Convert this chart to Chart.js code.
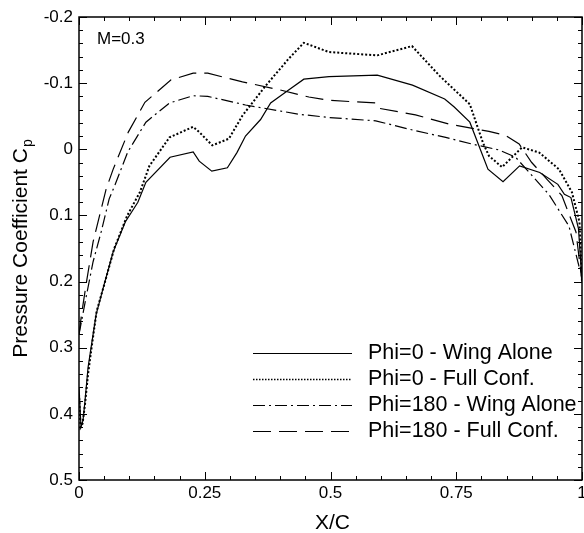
<!DOCTYPE html>
<html lang="en">
<head>
    <meta charset="UTF-8">
    <title>Pressure Coefficient</title>
    <script src="https://cdn.jsdelivr.net/npm/chart.js"></script>
    <style>
        body { margin: 0; background: #fff; overflow: hidden; }
        canvas { display: block; }
    </style>
</head>
<body>
    <canvas id="cpChart" width="584" height="533"></canvas>

    <script>
        // Phi=0 - Wing Alone
        const phi0WingX = [0, 0.004, 0.008, 0.012, 0.018, 0.024, 0.034, 0.048, 0.068, 0.092, 0.117, 0.133, 0.181, 0.227, 0.239, 0.264, 0.295, 0.314, 0.331, 0.361, 0.381, 0.414, 0.447, 0.497, 0.593, 0.663, 0.727, 0.746, 0.777, 0.813, 0.843, 0.876, 0.916, 0.952, 0.965, 0.978, 0.993, 1.0];
        const phi0WingCp = [0.36, 0.42, 0.41, 0.38, 0.33, 0.30, 0.25, 0.21, 0.155, 0.11, 0.08, 0.05, 0.012, 0.004, 0.018, 0.033, 0.028, 0.005, -0.02, -0.045, -0.07, -0.088, -0.106, -0.110, -0.112, -0.097, -0.076, -0.064, -0.041, 0.03, 0.049, 0.025, 0.035, 0.053, 0.068, 0.073, 0.12, 0.2];

        // Phi=0 - Full Conf.
        const phi0FullX = [0, 0.003, 0.007, 0.012, 0.018, 0.025, 0.035, 0.05, 0.07, 0.096, 0.121, 0.140, 0.180, 0.227, 0.239, 0.265, 0.298, 0.325, 0.371, 0.417, 0.447, 0.497, 0.593, 0.662, 0.717, 0.777, 0.803, 0.815, 0.841, 0.881, 0.915, 0.954, 0.980, 0.995, 1.0];
        const phi0FullCp = [0.37, 0.42, 0.415, 0.385, 0.34, 0.30, 0.245, 0.205, 0.15, 0.10, 0.065, 0.025, -0.018, -0.034, -0.026, -0.006, -0.016, -0.051, -0.096, -0.137, -0.161, -0.147, -0.142, -0.156, -0.111, -0.068, -0.01, 0.01, 0.027, -0.003, 0.005, 0.030, 0.065, 0.11, 0.2];

        // Phi=180 - Wing Alone
        const phi180WingX = [0, 0.005, 0.015, 0.028, 0.044, 0.06, 0.071, 0.097, 0.133, 0.180, 0.227, 0.256, 0.331, 0.437, 0.497, 0.590, 0.669, 0.729, 0.781, 0.835, 0.868, 0.895, 0.934, 0.974, 0.995];
        const phi180WingCp = [0.28, 0.26, 0.22, 0.17, 0.125, 0.075, 0.055, 0.004, -0.041, -0.070, -0.081, -0.080, -0.067, -0.053, -0.048, -0.043, -0.028, -0.018, -0.008, 0.001, 0.012, 0.035, 0.068, 0.116, 0.18];

        // Phi=180 - Full Conf.
        const phi180FullX = [0, 0.005, 0.015, 0.028, 0.041, 0.054, 0.068, 0.098, 0.131, 0.183, 0.227, 0.256, 0.325, 0.398, 0.457, 0.497, 0.590, 0.596, 0.669, 0.736, 0.815, 0.848, 0.875, 0.90, 0.93, 0.96, 0.988, 1.0];
        const phi180FullCp = [0.28, 0.25, 0.20, 0.14, 0.10, 0.06, 0.03, -0.026, -0.071, -0.105, -0.115, -0.115, -0.102, -0.090, -0.079, -0.074, -0.070, -0.062, -0.052, -0.038, -0.027, -0.021, -0.008, 0.02, 0.045, 0.07, 0.125, 0.2];

        const seriesLabels = ['Phi=0 - Wing Alone', 'Phi=0 - Full Conf.', 'Phi=180 - Wing Alone', 'Phi=180 - Full Conf.'];
        const xTickValues = [0, 0.25, 0.5, 0.75, 1];
        const xTickLabels = ['0', '0.25', '0.5', '0.75', '1'];
        const yTickValues = [-0.2, -0.1, 0, 0.1, 0.2, 0.3, 0.4, 0.5];
        const yTickLabels = ['-0.2', '-0.1', '0', '0.1', '0.2', '0.3', '0.4', '0.5'];

        const FONT = '"Liberation Sans", Arial, sans-serif';

        function toPoints(xs, ys) {
            return xs.map((x, i) => ({ x: x, y: ys[i] }));
        }

        const styles = [
            { borderDash: [], borderWidth: 1.2 },
            { borderDash: [2, 2], borderWidth: 2 },
            { borderDash: [12, 4, 2, 4], borderWidth: 1.2 },
            { borderDash: [18, 8], borderWidth: 1.2 }
        ];

        const allData = [
            toPoints(phi0WingX, phi0WingCp),
            toPoints(phi0FullX, phi0FullCp),
            toPoints(phi180WingX, phi180WingCp),
            toPoints(phi180FullX, phi180FullCp)
        ];

        // frame, inside ticks, labels, titles and legend
        const decorations = {
            id: 'decorations',
            afterDraw(chart) {
                const ctx = chart.ctx;
                const area = chart.chartArea;
                const xs = chart.scales.x;
                const ys = chart.scales.y;
                ctx.save();
                ctx.strokeStyle = '#000';
                ctx.fillStyle = '#000';

                // box
                ctx.lineWidth = 1.5;
                ctx.strokeRect(area.left, area.top, area.right - area.left, area.bottom - area.top);

                // ticks
                ctx.lineWidth = 1;
                ctx.beginPath();
                for (let i = 0; i <= 20; i++) {
                    const v = i * 0.05;
                    const px = Math.round(xs.getPixelForValue(v)) + 0.5;
                    const len = (i % 5 === 0) ? 8 : 4;
                    ctx.moveTo(px, area.bottom); ctx.lineTo(px, area.bottom - len);
                    ctx.moveTo(px, area.top); ctx.lineTo(px, area.top + len);
                }
                for (let i = 0; i <= 35; i++) {
                    const v = -0.2 + i * 0.02;
                    const py = Math.round(ys.getPixelForValue(v)) + 0.5;
                    const len = (i % 5 === 0) ? 8 : 4;
                    ctx.moveTo(area.left, py); ctx.lineTo(area.left + len, py);
                    ctx.moveTo(area.right, py); ctx.lineTo(area.right - len, py);
                }
                ctx.stroke();

                // tick labels
                ctx.font = '17px ' + FONT;
                ctx.textAlign = 'right';
                ctx.textBaseline = 'middle';
                yTickValues.forEach((v, i) => {
                    ctx.fillText(yTickLabels[i], area.left - 6, ys.getPixelForValue(v));
                });
                ctx.textAlign = 'center';
                xTickValues.forEach((v, i) => {
                    ctx.fillText(xTickLabels[i], xs.getPixelForValue(v), area.bottom + 13);
                });

                // axis titles
                ctx.font = '21px ' + FONT;
                ctx.fillText('X/C', (area.left + area.right) / 2 + 2, area.bottom + 43);

                ctx.save();
                ctx.translate(21, 249);
                ctx.rotate(-Math.PI / 2);
                const main = 'Pressure Coefficient C';
                const mainW = ctx.measureText(main).width;
                ctx.font = '14px ' + FONT;
                const subW = ctx.measureText('p').width;
                const start = -(mainW + subW) / 2;
                ctx.textAlign = 'left';
                ctx.font = '21px ' + FONT;
                ctx.fillText(main, start, 0);
                ctx.font = '14px ' + FONT;
                ctx.fillText('p', start + mainW + 1, 7);
                ctx.restore();

                // Mach label
                ctx.font = '17px ' + FONT;
                ctx.textAlign = 'left';
                ctx.fillText('M=0.3', area.left + 18, area.top + 22);

                // legend
                const rowY = [353, 379, 405, 431];
                ctx.font = '21.5px ' + FONT;
                chart.data.datasets.forEach((ds, i) => {
                    ctx.save();
                    ctx.lineWidth = i === 1 ? 1.5 : 1.2;
                    ctx.setLineDash(i === 1 ? [1.5, 1.5] : ds.borderDash);
                    ctx.beginPath();
                    ctx.moveTo(253, rowY[i] + 0.5);
                    ctx.lineTo(352, rowY[i] + 0.5);
                    ctx.stroke();
                    ctx.restore();
                    ctx.fillText(ds.label, 368, rowY[i]);
                });

                ctx.restore();
            }
        };

        new Chart(document.getElementById('cpChart'), {
            type: 'scatter',
            data: {
                datasets: allData.map((pts, i) => ({
                    label: seriesLabels[i],
                    data: pts,
                    showLine: true,
                    borderColor: '#000',
                    backgroundColor: '#000',
                    borderWidth: styles[i].borderWidth,
                    borderDash: styles[i].borderDash,
                    pointRadius: 0,
                    tension: 0
                }))
            },
            options: {
                responsive: false,
                animation: false,
                maintainAspectRatio: false,
                layout: { padding: { left: 79, top: 17, right: 2, bottom: 53 } },
                scales: {
                    x: { type: 'linear', min: 0, max: 1, display: false },
                    y: { type: 'linear', min: -0.2, max: 0.5, reverse: true, display: false }
                },
                plugins: {
                    legend: { display: false },
                    tooltip: { enabled: false }
                }
            },
            plugins: [decorations]
        });
    </script>
</body>
</html>
